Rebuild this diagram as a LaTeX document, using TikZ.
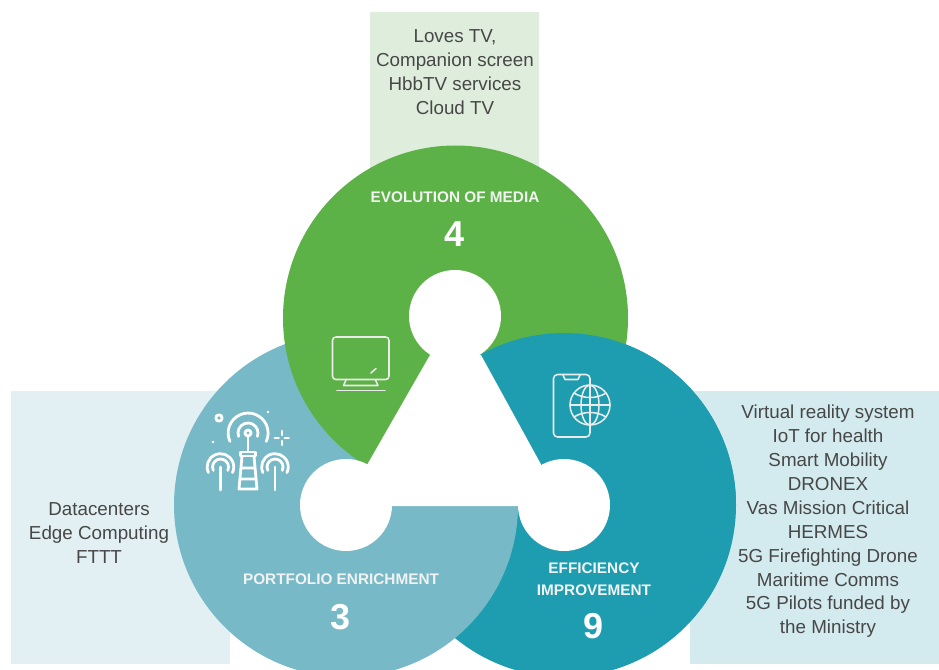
\documentclass[tikz,border=0pt]{standalone}
\usepackage{fontspec}
\setmainfont{Liberation Sans}
\definecolor{cgreen}{HTML}{5CB247}
\definecolor{clight}{HTML}{77B9C7}
\definecolor{cdark}{HTML}{1F9DB0}
\definecolor{bgreen}{HTML}{DFEEDC}
\definecolor{bleft}{HTML}{E2F0F3}
\definecolor{bright}{HTML}{D3EAEF}
\tikzset{x=0.75pt,y=-0.75pt,
  listtext/.style={font=\fontsize{14.1}{17.9}\selectfont,text=black!72,align=center,inner sep=0pt},
  headtext/.style={font=\bfseries\fontsize{11.5}{16.5}\selectfont,text=white!95!black,align=center,inner sep=0pt},
  numtext/.style={font=\bfseries\fontsize{27}{30}\selectfont,text=white,inner sep=0pt},
  icon/.style={draw=white!92!black,line width=1.15pt,line cap=round,line join=round,fill=none},
  tower/.style={draw=white,line width=2.1pt,line cap=round,line join=round,fill=none}}
\begin{document}
\begin{tikzpicture}
\useasboundingbox (0,0) rectangle (939,670);
\fill[white] (0,0) rectangle (939,670);
\fill[bgreen] (370,12) rectangle (539,170);
\fill[bleft] (11,391) rectangle (230,664);
\fill[bright] (690,391) rectangle (939,664);
\begin{scope}
\clip (0,0) rectangle (939,670);
\fill[cdark] (564,505) circle (172);
\fill[clight] (346,505) circle (172);
\fill[cgreen] (455.5,318) circle (172.5);
\begin{scope}
\clip (455,300) rectangle (760,500);
\fill[cdark] (564,505) circle (172);
\end{scope}
\fill[white] (455,316) circle (46);
\fill[white] (346,505) circle (46);
\fill[white] (564,505) circle (46);
\fill[white] (430,355) -- (481,355) -- (543,468) -- (564,506) -- (346,506) -- (367,465) -- cycle;
\end{scope}
% TV icon
\draw[icon,rounded corners=2.5pt] (332.5,337) rectangle (389,379.5);
\draw[icon] (346,380) -- (343.5,385.5) -- (378,385.5) -- (375.5,380);
\draw[icon] (337,390.5) -- (385,390.5);
\draw[icon] (371,373) -- (376,368.5);
% tower icon
\draw[tower] (219,418) circle (3.2);
\fill[white] (268,412) circle (1.3) (213,442) circle (1.3);
\draw[tower,line width=1.7pt] (281.7,431) -- (281.7,435) (281.7,441) -- (281.7,445) (274.7,438) -- (278.7,438) (284.7,438) -- (288.7,438);
\draw[tower] (248,433) circle (3);
\draw[tower] (238.6,436.4) arc (-200:20:10);
\draw[tower] (230,441.5) arc (-205:25:20);
\draw[tower] (248,436) -- (248,452);
\draw[tower] (240.5,452) rectangle (255.5,456);
\draw[tower] (242,456) -- (239,489) -- (257,489) -- (254,456) (241,468) -- (255,468) (240,479) -- (256,479);
\foreach \cx in {220.5,275}{
  \draw[tower] (\cx,467) -- (\cx,490);
  \draw[tower] (\cx-7.2,470.4) arc (-205:25:8);
  \draw[tower] (\cx-12.1,472.6) arc (-205:25:13.3);
}
% phone + globe icon
\draw[icon,rounded corners=3pt] (590,424) -- (590,437) -- (553.5,437) -- (553.5,374.5) -- (590,374.5) -- (590,386);
\draw[icon] (563,375) -- (565,379.5) -- (578,379.5) -- (580,375);
\draw[icon] (590,405) circle (20);
\draw[icon] (590,405) ellipse (9 and 20);
\draw[icon] (590,385) -- (590,425);
\draw[icon] (570,405) -- (610,405);
\draw[icon] (574,393) .. controls (583,399) and (597,399) .. (606,393);
\draw[icon] (574,417) .. controls (583,411) and (597,411) .. (606,417);
% texts
\node[listtext] (mediaList) at (455,72) {Loves TV,\\Companion screen\\HbbTV services\\Cloud TV};
\node[listtext] (portList) at (99,533) {Datacenters\\Edge Computing\\FTTT};
\node[listtext] (effList) at (828,521.5) {Virtual reality system\\IoT for health\\Smart Mobility\\DRONEX\\Vas Mission Critical\\HERMES\\5G Firefighting Drone\\Maritime Comms\\5G Pilots funded by\\the Ministry};
\node[headtext] (mediaHead) at (455,197) {EVOLUTION OF MEDIA};
\node[numtext] (mediaNum) at (455,234) {4};
\node[headtext] (portHead) at (341,579) {PORTFOLIO ENRICHMENT};
\node[numtext] (portNum) at (341,617) {3};
\node[headtext] (effHead) at (594,579) {EFFICIENCY\\IMPROVEMENT};
\node[numtext] (effNum) at (594,626) {9};
\end{tikzpicture}
\end{document}
